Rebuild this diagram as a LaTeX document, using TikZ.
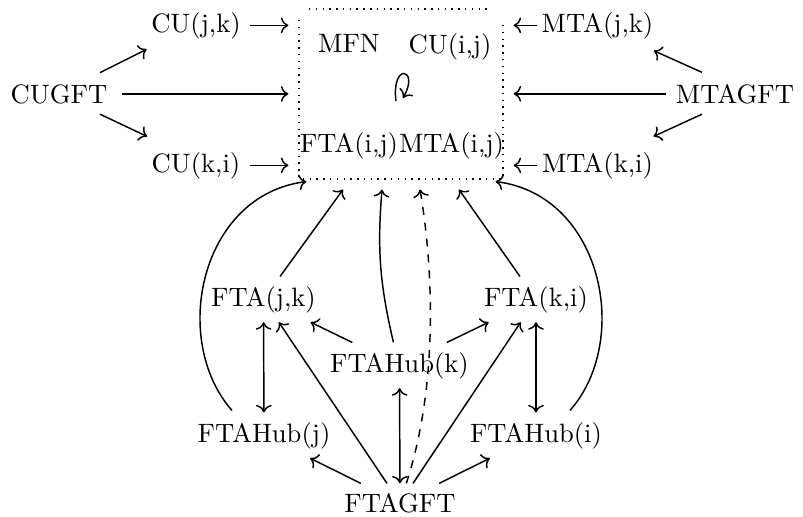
\documentclass[tikz,border=0pt]{standalone}
\usetikzlibrary{arrows.meta,calc}
\begin{document}
\begin{tikzpicture}[x=0.376pt,y=-0.376pt,line width=0.55pt,
  lbl/.style={anchor=base},
  arr/.style={-{Computer Modern Rightarrow}},
  darr/.style={{Computer Modern Rightarrow}-{Computer Modern Rightarrow}},
  tobox/.style={arr,shorten >=4pt},
  frame/.style={inner sep=0pt,outer sep=0pt,minimum width=76.7pt,minimum height=63.9pt},
  framedots/.style={dotted}]
\useasboundingbox (0,0) rectangle (803,517);
% the dotted frame
\node[frame] (box) at (401,94) {};
\draw[framedots] ($(box.north west)+(10,0)$) -- ($(box.north east)+(-12,0)$);
\draw[framedots] ($(box.north west)+(0,11)$) -- (box.south west) -- (box.south east) -- ($(box.north east)+(0,11)$);
% nodes
\node[lbl] (cugft) at (59,103) {CUGFT};
\node[lbl] (cujk) at (196,32) {CU(j,k)};
\node[lbl] (cuki) at (196,172) {CU(k,i)};
\node[lbl] (mfn) at (349,52) {MFN};
\node[lbl] (cuij) at (450,53) {CU(i,j)};
\node[lbl] (ftaij) at (349,152) {FTA(i,j)};
\node[lbl] (mtaij) at (451.5,152) {MTA(i,j)};
\node[lbl] (mtajk) at (597.5,32) {MTA(j,k)};
\node[lbl] (mtagft) at (735,103) {MTAGFT};
\node[lbl] (mtaki) at (597.5,172) {MTA(k,i)};
\node[lbl] (ftajk) at (263.5,306) {FTA(j,k)};
\node[lbl] (ftaki) at (536,306) {FTA(k,i)};
\node[lbl] (fhk) at (399.5,372) {FTAHub(k)};
\node[lbl] (fhj) at (264,442) {FTAHub(j)};
\node[lbl] (fhi) at (536,442) {FTAHub(i)};
\node[lbl] (ftagft) at (400,512) {FTAGFT};
% left group
\draw[arr] ($(cugft.north)+(41,-2)$) -- ($(cujk.south west)+(5,1)$);
\draw[arr] ($(cugft.south)+(41,1)$) -- ($(cuki.north west)+(5,-6)$);
\draw[tobox] ($(cugft.east)+(5,0)$) -- (cugft -| box.west);
\draw[tobox] (cujk) -- (cujk -| box.west);
\draw[tobox] (cuki) -- (cuki -| box.west);
% right group
\draw[arr] ($(mtagft.north)+(-33,-2)$) -- ($(mtajk.south east)+(-9,2.5)$);
\draw[arr] ($(mtagft.south)+(-33,1)$) -- ($(mtaki.north east)+(-9,-6)$);
\draw[tobox] (mtagft) -- (mtagft -| box.east);
\draw[tobox] ($(mtajk.west)+(5,0)$) -- (mtajk -| box.east);
\draw[tobox] ($(mtaki.west)+(5,0)$) -- (mtaki -| box.east);
% loop inside the frame
\draw[arr] (396,101) .. controls (391,62) and (420,68) .. (403,98);
% bottom group into the frame
\draw[arr] (ftajk) -- ($(box.south)+(-58,10.6)$);
\draw[arr] (ftaki) -- ($(box.south)+(58,10.6)$);
\draw[arr] (fhk) to[bend left=9] ($(box.south)+(-19,10.6)$);
\draw[arr,dashed] (ftagft) .. controls (440,380) and (432,260) .. ($(box.south)+(19,10.6)$);
\draw[arr] ($(fhj.north)+(-32,-2)$) .. controls (170,340) and (200,195) .. ($(box.south west)+(7.4,2.6)$);
\draw[arr] ($(fhi.north)+(34,-2)$) .. controls (632,340) and (602,195) .. ($(box.south east)+(-7.4,2.6)$);
% hub connections
\draw[arr] (fhk) -- (ftajk);
\draw[arr] (fhk) -- (ftaki);
\draw[darr] (ftajk) -- (fhj);
\draw[darr] (ftaki) -- (fhi);
\draw[darr] (fhk) -- (ftagft);
\draw[arr] (ftagft) -- (ftajk);
\draw[arr] (ftagft) -- (ftaki);
\draw[arr] (ftagft) -- (fhj);
\draw[arr] (ftagft) -- (fhi);
\end{tikzpicture}
\end{document}
